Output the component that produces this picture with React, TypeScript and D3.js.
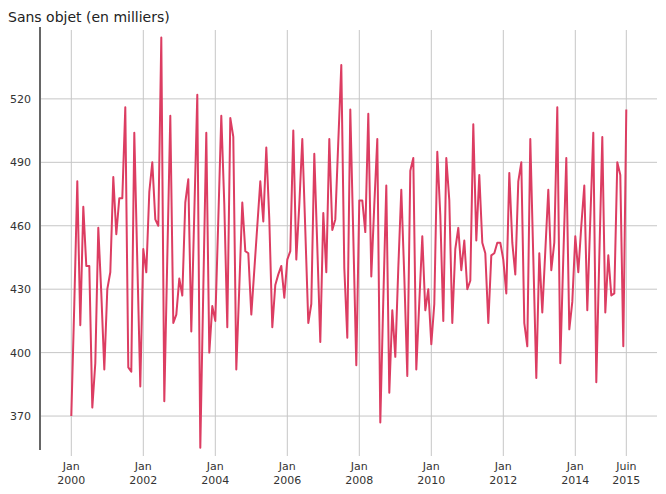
import React from "react";
import * as d3 from "d3";

const title = "Sans objet (en milliers)";
const values: number[] = [
  370, 423, 481, 413, 469, 441, 441, 374, 395, 459, 428, 392,
  430, 438, 483, 456, 473, 473, 516, 393, 391, 504, 443, 384,
  449, 438, 476, 490, 463, 460, 549, 377, 445, 512, 414, 418,
  435, 427, 471, 482, 410, 466, 522, 355, 430, 504, 400, 422,
  415, 463, 512, 470, 412, 511, 502, 392, 431, 471, 448, 447,
  418, 439, 460, 481, 462, 497, 463, 412, 432, 437, 441, 426,
  444, 448, 505, 444, 470, 501, 458, 414, 423, 494, 450, 405,
  466, 438, 501, 458, 463, 500, 536, 440, 407, 515, 455, 394,
  472, 472, 457, 513, 436, 470, 501, 367, 425, 479, 381, 420,
  398, 440, 477, 436, 389, 486, 492, 392, 424, 455, 420, 430,
  404, 423, 495, 465, 415, 492, 472, 414, 449, 459, 439, 453,
  430, 434, 508, 453, 484, 452, 447, 414, 446, 447, 452, 452,
  444, 428, 485, 452, 437, 481, 490, 414, 403, 501, 445, 388,
  447, 419, 448, 477, 439, 452, 516, 395, 445, 492, 411, 424,
  455, 438, 460, 479, 420, 463, 504, 386, 445, 502, 419, 446,
  427, 428, 490, 484, 403, 515,
];
const yTicks = [370, 400, 430, 460, 490, 520];
const xTickIndex = [0, 24, 48, 72, 96, 120, 144, 168, 185];
const xTickTop = ["Jan", "Jan", "Jan", "Jan", "Jan", "Jan", "Jan", "Jan", "Juin"];
const xTickBottom = ["2000", "2002", "2004", "2006", "2008", "2010", "2012", "2014", "2015"];

export default function App() {
  const W = 666, H = 494;
  const left = 40, right = 657, top = 27, bottom = 452;
  const x = d3.scaleLinear().domain([0, values.length - 1]).range([71.3, 626.3]);
  const y = d3.scaleLinear().domain([353, 554]).range([bottom, top]);
  const line = d3.line<number>().x((_, i) => x(i)).y((d) => y(d));
  const font = "'DejaVu Sans', Verdana, sans-serif";
  return (
    <svg width={W} height={H} style={{ position: "absolute", left: 0, top: 0, background: "#fff" }}>
      <text x={8} y={22} fontFamily={font} fontSize={14} fill="#222">{title}</text>
      {yTicks.map((t) => (
        <g key={t}>
          <line x1={left} x2={right} y1={y(t)} y2={y(t)} stroke="#c6c6c6" strokeWidth={1} />
          <text x={31} y={y(t) + 4} textAnchor="end" fontFamily={font} fontSize={11} fill="#333">{t}</text>
        </g>
      ))}
      {xTickIndex.map((t, k) => (
        <g key={t}>
          <line x1={x(t)} x2={x(t)} y1={30} y2={456} stroke="#c6c6c6" strokeWidth={1} />
          <text x={x(t)} y={470} textAnchor="middle" fontFamily={font} fontSize={11} fill="#333">{xTickTop[k]}</text>
          <text x={x(t)} y={484} textAnchor="middle" fontFamily={font} fontSize={11} fill="#333">{xTickBottom[k]}</text>
        </g>
      ))}
      <line x1={left} x2={left} y1={top} y2={450} stroke="#666" strokeWidth={2} />
      <path d={line(values) || ""} fill="none" stroke="#dc3d62" strokeWidth={2} strokeLinejoin="round" />
    </svg>
  );
}
